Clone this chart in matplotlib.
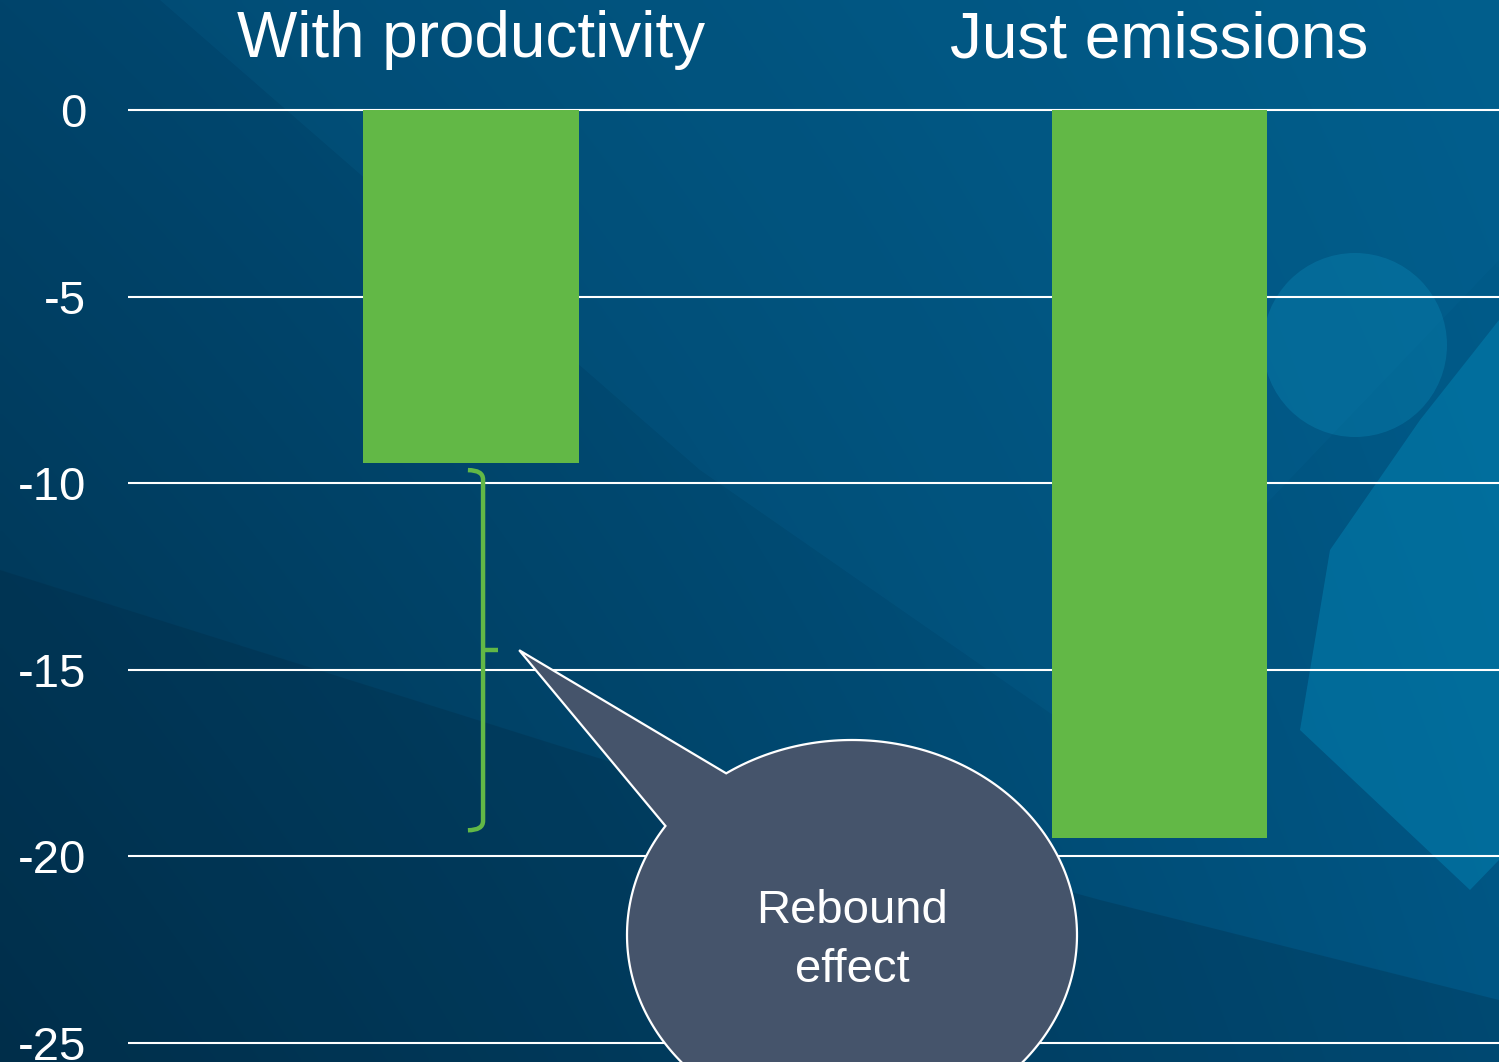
import numpy as np
import matplotlib
matplotlib.use("Agg")
import matplotlib.pyplot as plt
from matplotlib.patches import Polygon, Circle, PathPatch
from matplotlib.path import Path
from matplotlib.colors import to_rgb

plt.rcParams['font.family'] = ['Liberation Sans', 'DejaVu Sans']

# Chart data
categories = ["With productivity", "Just emissions"]
values = [-9.45, -19.5]
y_ticks = [0, -5, -10, -15, -20, -25]
callout_text = ["Rebound", "effect"]

W, H = 1499, 1062
fig = plt.figure(figsize=(W / 100, H / 100), dpi=100)

# ---- background: slide-style blue gradient with soft shapes ----
bg = fig.add_axes([0, 0, 1, 1], zorder=0)
bg.set_xlim(0, W)
bg.set_ylim(H, 0)
bg.axis("off")

xx, yy = np.meshgrid(np.linspace(0, 1, 300), np.linspace(0, 1, 220))
tl, tr = np.array(to_rgb("#00446b")), np.array(to_rgb("#005d8b"))
bl, br = np.array(to_rgb("#00324f")), np.array(to_rgb("#005583"))
img = ((1 - xx)[..., None] * (1 - yy)[..., None] * tl + xx[..., None] * (1 - yy)[..., None] * tr
       + (1 - xx)[..., None] * yy[..., None] * bl + xx[..., None] * yy[..., None] * br)
bg.imshow(img, extent=(0, W, H, 0), aspect="auto", interpolation="bilinear", zorder=0)

bg.add_patch(Polygon([(160, 0), (1499, 0), (1499, 260), (1060, 720), (700, 470)],
                     closed=True, facecolor="#0a6a9a", alpha=0.18, lw=0, zorder=1))
bg.add_patch(Polygon([(0, 570), (700, 790), (1100, 900), (1499, 1000), (1499, 1062), (0, 1062)],
                     closed=True, facecolor="#00263f", alpha=0.25, lw=0, zorder=1))
bg.add_patch(Polygon([(1499, 320), (1420, 420), (1330, 550), (1300, 730), (1470, 890), (1499, 860)],
                     closed=True, facecolor="#0388b8", alpha=0.45, lw=0, zorder=1))
bg.add_patch(Circle((1355, 345), 92, facecolor="#0a84b2", alpha=0.4, lw=0, zorder=2))

# ---- main chart ----
ax = fig.add_axes([128 / W, 0, 1 - 128 / W, 1], zorder=1)
ax.patch.set_alpha(0)
ax.set_xlim(-0.4985, 1.494)
ax.set_ylim(-25.51, 2.9475)

x = np.arange(len(categories))
ax.bar(x, values, width=0.3125, color="#62b846", zorder=3)

for t in y_ticks:
    ax.axhline(t, color="white", lw=1.5, zorder=2)
ax.set_yticks(y_ticks)
ax.set_yticklabels([str(t) for t in y_ticks])
ax.tick_params(axis="y", length=0, pad=30, labelsize=34, labelcolor="white")
ax.set_xticks([])
for s in ax.spines.values():
    s.set_visible(False)

for xi, name in zip(x, categories):
    ax.text(xi, 1.42, name, ha="center", va="baseline", fontsize=46, color="white")

# Bracket marking the gap between the two bars
gap_top = values[0] - 0.2
gap_bot = values[1] + 0.2
mid = (gap_top + gap_bot) / 2
bx = 0.0175
hook = 0.022
cy = 0.25
bracket = Path(
    [(bx - hook, gap_top), (bx, gap_top), (bx, gap_top - cy),
     (bx, gap_bot + cy), (bx, gap_bot), (bx - hook, gap_bot)],
    [Path.MOVETO, Path.CURVE3, Path.CURVE3,
     Path.LINETO, Path.CURVE3, Path.CURVE3])
ax.add_patch(PathPatch(bracket, fill=False, edgecolor="#62b846", lw=3.2, zorder=4,
                       capstyle="butt", joinstyle="round"))
ax.plot([bx, bx + 0.022], [mid, mid], color="#62b846", lw=3.2,
        solid_capstyle="butt", zorder=4)

# ---- callout bubble pointing at the bracket ----
ov = fig.add_axes([0, 0, 1, 1], zorder=2)
ov.set_xlim(0, W)
ov.set_ylim(H, 0)
ov.axis("off")
ov.patch.set_alpha(0)

tip = ax.transData.transform((0.07, mid))
tip = (tip[0], H - tip[1])
cx, cyy, rx, ry = 852, 935, 225, 195
a0, a1 = np.deg2rad(236), np.deg2rad(360 + 214)
ang = np.linspace(a0, a1, 300)
pts = np.column_stack([cx + rx * np.cos(ang), cyy + ry * np.sin(ang)])
pts = np.vstack([pts, [tip]])
ov.add_patch(Polygon(pts, closed=True, facecolor="#45546b", edgecolor="white", lw=1.6,
                     zorder=5, clip_on=False))
ov.text(cx, 923, callout_text[0], ha="center", va="baseline", fontsize=34, color="white", zorder=6)
ov.text(cx, 982, callout_text[1], ha="center", va="baseline", fontsize=34, color="white", zorder=6)

fig.savefig("out.png", dpi=100)
